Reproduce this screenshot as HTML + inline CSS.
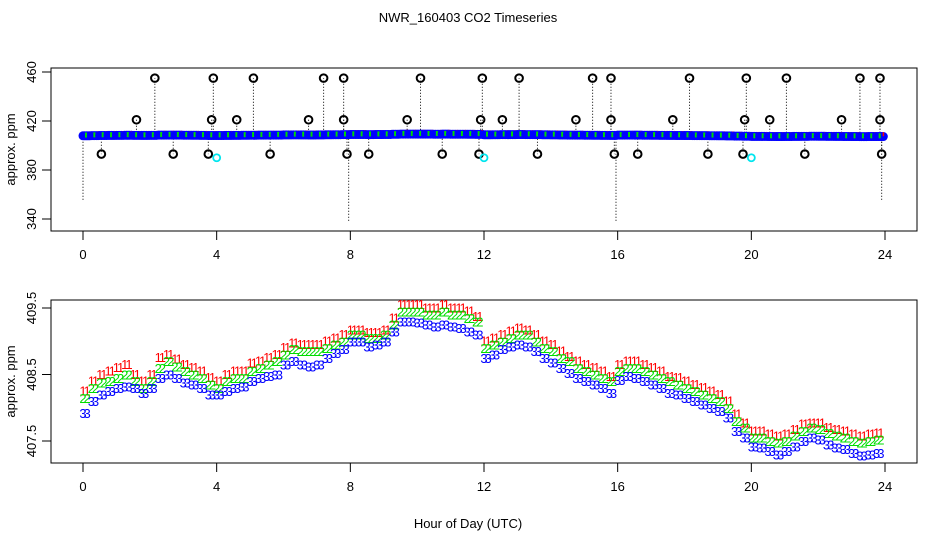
<!DOCTYPE html>
<html><head><meta charset="utf-8"><style>
body{margin:0;background:#fff}
svg{display:block;font-family:"Liberation Sans",sans-serif}
</style></head><body>
<svg id="chart" width="936" height="540" viewBox="0 0 936 540" xmlns="http://www.w3.org/2000/svg">
<rect width="936" height="540" fill="#fff"/>
<text x="468" y="22" font-size="13" text-anchor="middle">NWR_160403  CO2 Timeseries</text>
<text x="468" y="528" font-size="13" text-anchor="middle">Hour of Day (UTC)</text>
<g id="topPanel"></g>
<g id="botPanel"></g>
</svg>
<script>
const hours = [];
for (let i = 0; i < 96; i++) hours.push(i * 0.25);
const green = [408.15,408.3,408.38,408.4,408.45,408.5,408.4,408.3,408.4,408.6,408.7,408.62,408.55,408.5,408.45,408.35,
408.3,408.4,408.45,408.45,408.55,408.6,408.65,408.7,408.8,408.88,408.85,408.85,408.85,408.9,408.95,409.0,
409.1,409.1,409.05,409.05,409.1,409.25,409.45,409.45,409.45,409.4,409.4,409.45,409.4,409.4,409.35,409.3,
408.9,408.95,409.0,409.05,409.1,409.1,409.0,408.9,408.85,408.75,408.7,408.6,408.55,408.5,408.45,408.4,
408.55,408.6,408.6,408.55,408.5,408.45,408.4,408.35,408.3,408.25,408.2,408.15,408.1,408.0,407.8,407.7,
407.55,407.55,407.5,407.48,407.5,407.58,407.65,407.7,407.68,407.62,407.58,407.55,407.5,407.48,407.5,407.52];
const red = [408.2,408.35,408.45,408.5,408.55,408.6,408.45,408.35,408.45,408.7,408.75,408.68,408.6,408.55,408.5,408.4,
408.35,408.45,408.5,408.5,408.62,408.65,408.7,408.75,408.85,408.92,408.9,408.9,408.9,408.95,409.0,409.05,
409.12,409.12,409.08,409.08,409.12,409.3,409.5,409.5,409.5,409.45,409.45,409.5,409.45,409.45,409.4,409.32,
408.95,409.0,409.05,409.1,409.15,409.12,409.05,408.95,408.9,408.8,408.72,408.65,408.6,408.55,408.5,408.42,
408.6,408.65,408.65,408.6,408.55,408.5,408.42,408.4,408.35,408.3,408.25,408.2,408.15,408.05,407.85,407.72,
407.6,407.6,407.55,407.52,407.55,407.62,407.7,407.72,407.72,407.65,407.62,407.6,407.55,407.52,407.55,407.57];
const blue = [407.92,408.1,408.2,408.25,408.3,408.32,408.3,408.22,408.3,408.45,408.5,408.45,408.38,408.35,408.3,408.2,
408.2,408.25,408.3,408.32,408.4,408.45,408.48,408.5,408.65,408.7,408.65,408.62,408.65,408.75,408.82,408.88,
409.0,409.0,408.92,408.95,409.0,409.15,409.3,409.3,409.28,409.25,409.22,409.25,409.22,409.2,409.15,409.1,
408.75,408.8,408.88,408.92,408.95,408.92,408.85,408.75,408.68,408.6,408.52,408.45,408.4,408.35,408.3,408.22,
408.42,408.48,408.45,408.4,408.35,408.3,408.22,408.2,408.15,408.1,408.05,408.0,407.95,407.85,407.65,407.55,
407.42,407.4,407.35,407.3,407.35,407.42,407.5,407.55,407.52,407.45,407.4,407.38,407.32,407.28,407.3,407.32];
const outHours = [2.15,3.9,5.1,7.2,7.8,10.1,11.95,13.05,15.25,15.8,18.15,19.85,21.05,23.25,23.85,
1.6,3.85,4.6,6.75,7.8,9.7,11.9,12.55,14.75,15.8,17.65,19.8,20.55,22.7,23.85,
0.55,2.7,3.75,5.6,7.9,8.55,10.75,11.85,13.6,15.9,16.6,18.7,19.75,21.6,23.9];
const outVals = [455,455,455,455,455,455,455,455,455,455,455,455,455,455,455,
421,421,421,421,421,421,421,421,421,421,421,421,421,421,421,
393,393,393,393,393,393,393,393,393,393,393,393,393,393,393];
const cyanHours = [4,12,20];
const cyanVals = [390,390,390];
const longDropHours = [0,7.95,15.95,23.9];
const longDropVals = [355,338,338,355];
const xTicks = [0,4,8,12,16,20,24];
const topTicks = [340,380,420,460];
const botTicks = [407.5,408.5,409.5];

const NS = "http://www.w3.org/2000/svg";
function mk(p, tag, attrs){const e=document.createElementNS(NS,tag);for(const k in attrs)e.setAttribute(k,attrs[k]);p.appendChild(e);return e;}
const xS = h => 83 + h * (802/24);
const yTop = v => 72 + (460 - v) * (147/120);
const yBot = v => 441 - (v - 407.5) * (133/2);

function axes(g, y0, y1, ticks, yScale, prefix){
  const box = mk(g,'rect',{x:51,y:y0,width:866,height:y1-y0,fill:'none',stroke:'#000','stroke-width':1});
  
  
  const xa = mk(g,'line',{x1:xS(0),x2:xS(24),y1:y1,y2:y1,stroke:'#000'});
  
  
  xTicks.forEach(t=>{
    mk(g,'line',{x1:xS(t),x2:xS(t),y1:y1,y2:y1+9,stroke:'#000'});
    const tx = mk(g,'text',{x:xS(t),y:y1+28,'font-size':13,'text-anchor':'middle'});
    tx.textContent = t;
    
    
  });
  ticks.forEach(t=>{
    const y = yScale(t);
    mk(g,'line',{x1:51,x2:42,y1:y,y2:y,stroke:'#000'});
    const tx = mk(g,'text',{x:36,y:y,'font-size':13,'text-anchor':'middle',transform:`rotate(-90 36 ${y})`});
    tx.textContent = t;
    
    
  });
  const yc = (y0+y1)/2;
  const yl = mk(g,'text',{x:15,y:yc,'font-size':13,'text-anchor':'middle',transform:`rotate(-90 15 ${yc})`});
  yl.textContent = 'approx. ppm';
  
  
}

const topG = document.getElementById('topPanel');
axes(topG, 68, 231, topTicks, yTop, 'top');
longDropHours.forEach((h,i)=>{
  const l = mk(topG,'line',{x1:xS(h),x2:xS(h),y1:yTop(408),y2:yTop(longDropVals[i]),stroke:'#000','stroke-dasharray':'1 2'});
  
  
});
outHours.forEach((h,i)=>{
  const l = mk(topG,'line',{x1:xS(h),x2:xS(h),y1:yTop(408),y2:yTop(outVals[i]),stroke:'#000','stroke-dasharray':'1 2'});
  
  
});
const bandG = mk(topG,'g',{});


hours.forEach((h,i)=>{
  if (h>=3.8 && h<4.0) return;
  for (let k=0;k<5;k++){
    const c = mk(bandG,'circle',{cx:xS(h + k*0.05),cy:yTop(blue[i]),r:4.5,fill:'#0000ff'});
    
    
  }
  const g1 = mk(bandG,'rect',{x:xS(h)+2,y:yTop(green[i])-3,width:2,height:5,fill:'#00dd00'});
  
  
  const r1 = mk(bandG,'rect',{x:xS(h)+6,y:yTop(red[i])-4,width:1.5,height:4,fill:'#ff0000'});
  
  
});
outHours.forEach((h,i)=>{
  const c = mk(topG,'circle',{cx:xS(h),cy:yTop(outVals[i]),r:3.8,fill:'none',stroke:'#000','stroke-width':2});
  
  
});
cyanHours.forEach((h,i)=>{
  const c = mk(topG,'circle',{cx:xS(h),cy:yTop(cyanVals[i]),r:3.5,fill:'none',stroke:'#00e5ee','stroke-width':1.8});
  
  
});

const botG = document.getElementById('botPanel');
axes(botG, 300, 463, botTicks, yBot, 'bottom');
[[red,'#ff0000','1',-4],[green,'#00dd00','2',0],[blue,'#0000ff','3',0]].forEach(([arr,col,ch,dy])=>{
  const g = mk(botG,'g',{fill:col,'font-size':13,'text-anchor':'middle'});
  
  
  hours.forEach((h,i)=>{
    for (let k=0;k<2;k++){
      const t = mk(g,'text',{x:xS(h+k*0.125),y:yBot(arr[i])+5+dy});
      t.textContent = ch;
      
      
    }
  });
});
</script>
</body></html>
